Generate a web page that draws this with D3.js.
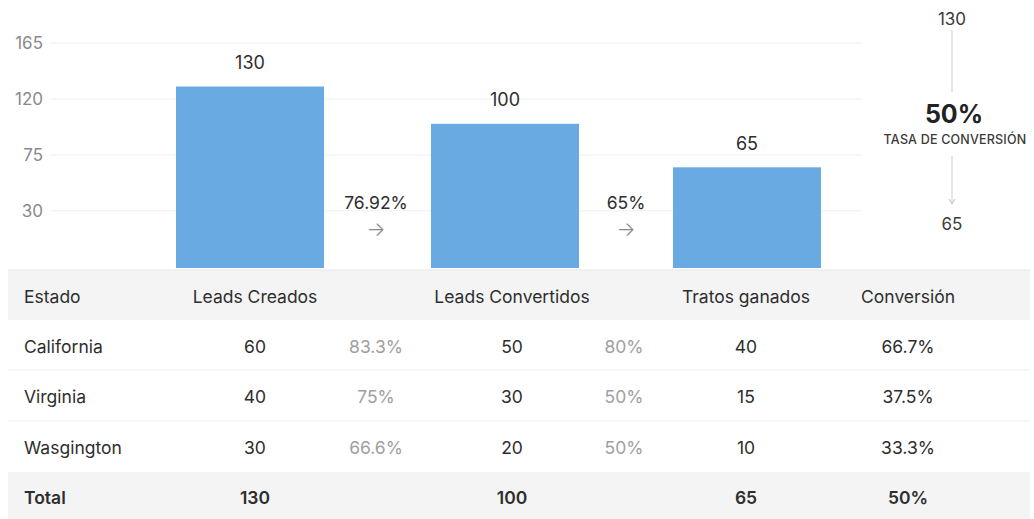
<!DOCTYPE html>
<html>
<head>
<meta charset="utf-8">
<script src="https://cdn.jsdelivr.net/npm/d3@7"></script>
<style>
  html, body { margin: 0; padding: 0; background: #fff; }
  svg { display: block; font-family: Inter, "Open Sans", sans-serif; }
</style>
</head>
<body>
<svg id="chart" width="1034" height="519"></svg>
<script>
// ---- data ----
const stages = ["Leads Creados", "Leads Convertidos", "Tratos ganados"];
const stageValues = [130, 100, 65];
const stepRates = ["76.92%", "65%"];
const yTicks = [30, 75, 120, 165];
const overallRate = "50%";
const overallLabel = "TASA DE CONVERSIÓN";
const tableHeader = ["Estado", "Leads Creados", "", "Leads Convertidos", "", "Tratos ganados", "Conversión"];
const states = ["California", "Virginia", "Wasgington"];
const leadsCreated = [60, 40, 30];
const createdRate = ["83.3%", "75%", "66.6%"];
const leadsConverted = [50, 30, 20];
const convertedRate = ["80%", "50%", "50%"];
const dealsWon = [40, 15, 10];
const conversion = ["66.7%", "37.5%", "33.3%"];
const totals = ["Total", "130", "", "100", "", "65", "50%"];

// ---- layout ----
const W = 1034, H = 519;
const svg = d3.select("#chart");
const plotBottom = 268;
const y = d3.scaleLinear().domain([-16, 165]).range([plotBottom, 43]);
const slots = ["b0", "r0", "b1", "r1", "b2"];
const x = d3.scaleOrdinal().domain(slots).range([250, 376, 505, 626, 747]);
const barW = 148;

// gridlines + ticks
const grid = svg.append("g");
grid.selectAll("line").data(yTicks).join("line")
  .attr("x1", 50).attr("x2", 862)
  .attr("y1", d => y(d)).attr("y2", d => y(d))
  .attr("stroke", "#efefef").attr("stroke-width", 1);
grid.selectAll("text").data(yTicks).join("text")
  .attr("x", 43).attr("y", d => y(d))
  .attr("text-anchor", "end").attr("dominant-baseline", "central")
  .attr("fill", "#8a8a8a").attr("font-size", 17)
  .text(d => d);

// bars
const barData = stages.map((s, i) => ({ s, v: stageValues[i], slot: "b" + i }));
svg.append("g").selectAll("rect").data(barData).join("rect")
  .attr("x", d => x(d.slot) - barW / 2)
  .attr("y", d => y(d.v))
  .attr("width", barW)
  .attr("height", d => plotBottom - y(d.v))
  .attr("fill", "#69aae3");
svg.append("g").selectAll("text").data(barData).join("text")
  .attr("x", d => x(d.slot)).attr("y", d => y(d.v) - 24)
  .attr("text-anchor", "middle").attr("dominant-baseline", "central")
  .attr("fill", "#2e2e2e").attr("font-size", 18)
  .text(d => d.v);

// step rates
const rateG = svg.append("g").selectAll("g").data(stepRates).join("g")
  .attr("transform", (d, i) => `translate(${x("r" + i)},0)`);
rateG.append("text").attr("y", 202)
  .attr("text-anchor", "middle").attr("dominant-baseline", "central")
  .attr("fill", "#2e2e2e").attr("font-size", 17.5).text(d => d);
rateG.append("text").attr("y", 229)
  .attr("text-anchor", "middle").attr("dominant-baseline", "central")
  .attr("fill", "#8a8a8a").attr("font-size", 20).attr("font-weight", 300).text("→");

// overall conversion panel
const px = 952;
const pg = svg.append("g");
pg.append("text").attr("x", px).attr("y", 19).attr("text-anchor", "middle")
  .attr("dominant-baseline", "central").attr("fill", "#3a3a3a").attr("font-size", 17)
  .text(stageValues[0]);
pg.append("line").attr("x1", px).attr("x2", px).attr("y1", 30).attr("y2", 92)
  .attr("stroke", "#cfcfcf");
pg.append("text").attr("x", px + 2).attr("y", 114).attr("text-anchor", "middle")
  .attr("dominant-baseline", "central").attr("fill", "#222").attr("font-size", 25)
  .attr("font-weight", 700).text(overallRate);
pg.append("text").attr("x", px + 3).attr("y", 139).attr("text-anchor", "middle")
  .attr("dominant-baseline", "central").attr("fill", "#3a3a3a").attr("font-size", 12.5)
  .attr("letter-spacing", 0.2).attr("font-weight", 500).text(overallLabel);
pg.append("line").attr("x1", px).attr("x2", px).attr("y1", 156).attr("y2", 203)
  .attr("stroke", "#cfcfcf");
pg.append("path").attr("d", `M${px - 3},${199} L${px},${204} L${px + 3},${199}`)
  .attr("fill", "none").attr("stroke", "#bdbdbd");
pg.append("text").attr("x", px).attr("y", 224).attr("text-anchor", "middle")
  .attr("dominant-baseline", "central").attr("fill", "#3a3a3a").attr("font-size", 17)
  .text(stageValues[stageValues.length - 1]);

// ---- table ----
const colX = [24, 255, 376, 512, 624, 746, 908];
const rowTop = [270, 320, 370, 421, 472];
const rowH = [50, 50, 51, 51, 48];
const tableL = 8, tableR = 1030;
const tg = svg.append("g");
tg.append("rect").attr("x", tableL).attr("y", rowTop[0]).attr("width", tableR - tableL)
  .attr("height", rowH[0]).attr("fill", "#f4f4f4");
tg.append("line").attr("x1", tableL).attr("x2", tableR).attr("y1", rowTop[0]).attr("y2", rowTop[0])
  .attr("stroke", "#e6e6e6");
tg.append("rect").attr("x", tableL).attr("y", rowTop[4]).attr("width", tableR - tableL)
  .attr("height", H - rowTop[4]).attr("fill", "#f4f4f4");
[rowTop[2], rowTop[3]].forEach(yy => {
  tg.append("line").attr("x1", tableL).attr("x2", tableR).attr("y1", yy).attr("y2", yy)
    .attr("stroke", "#efefef");
});

const rows = states.map((s, i) => [s, leadsCreated[i], createdRate[i], leadsConverted[i], convertedRate[i], dealsWon[i], conversion[i]]);
const allRows = [tableHeader, ...rows, totals];
allRows.forEach((r, ri) => {
  const cy = rowTop[ri] + rowH[ri] / 2 + 1;
  const g = tg.append("g");
  g.selectAll("text").data(r).join("text")
    .attr("x", (d, ci) => colX[ci])
    .attr("y", cy)
    .attr("text-anchor", (d, ci) => ci === 0 ? "start" : "middle")
    .attr("dominant-baseline", "central")
    .attr("font-size", 17.5)
    .attr("font-weight", ri === allRows.length - 1 ? 600 : 400)
    .attr("fill", (d, ci) => (ri > 0 && ri < allRows.length - 1 && (ci === 2 || ci === 4)) ? "#a0a0a0" : "#2e2e2e")
    .text(d => d);
});
</script>
</body>
</html>
